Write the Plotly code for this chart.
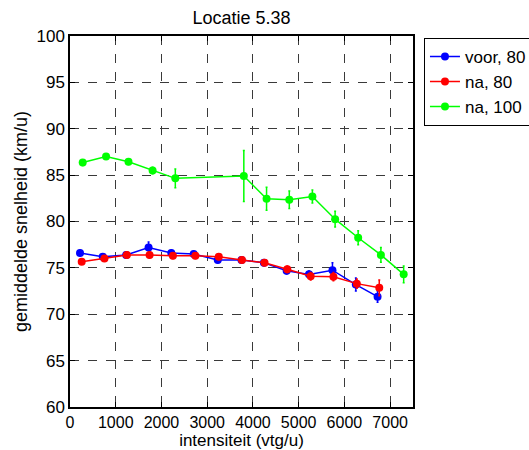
import plotly.graph_objects as go

title = "Locatie 5.38"
x_label = "intensiteit (vtg/u)"
y_label = "gemiddelde snelheid (km/u)"

voor80_x = [219, 716, 1228, 1718, 2215, 2705, 3231, 3750, 4240, 4737, 5226, 5739, 6250, 6725]
voor80_y = [76.6, 76.2, 76.4, 77.2, 76.6, 76.5, 75.85, 75.85, 75.55, 74.7, 74.3, 74.75, 73.2, 71.9]
voor80_e = [0.3, 0.3, 0.35, 0.6, 0.3, 0.3, 0.3, 0.3, 0.3, 0.35, 0.35, 0.8, 0.7, 0.6]

na80_x = [256, 753, 1243, 1740, 2250, 2741, 3253, 3760, 4254, 4751, 5263, 5760, 6272, 6762]
na80_y = [75.65, 76.0, 76.4, 76.4, 76.3, 76.3, 76.2, 75.85, 75.55, 74.85, 74.1, 74.05, 73.3, 72.85]
na80_e = [0.25, 0.25, 0.3, 0.3, 0.3, 0.3, 0.3, 0.3, 0.3, 0.35, 0.4, 0.45, 0.5, 0.85]

na100_x = [278, 789, 1279, 1806, 2303, 3801, 4298, 4795, 5300, 5797, 6301, 6798, 7296]
na100_y = [86.35, 87.0, 86.45, 85.5, 84.65, 84.9, 82.45, 82.35, 82.7, 80.25, 78.25, 76.4, 74.3]
na100_e = [0.3, 0.3, 0.3, 0.35, 1.0, 2.75, 1.25, 0.95, 0.7, 0.85, 0.75, 0.8, 0.9]

x_ticks = [0, 1000, 2000, 3000, 4000, 5000, 6000, 7000]
y_ticks = [60, 65, 70, 75, 80, 85, 90, 95, 100]

series = [
    ("voor, 80", voor80_x, voor80_y, voor80_e, "#0000ff"),
    ("na, 80", na80_x, na80_y, na80_e, "#ff0000"),
    ("na, 100", na100_x, na100_y, na100_e, "#00ff00"),
]

FONT = "Arial, Liberation Sans, Helvetica, sans-serif"

fig = go.Figure()
for name, xs, ys, es, col in series:
    fig.add_trace(go.Scatter(
        x=xs, y=ys, name=name, mode="lines+markers",
        line=dict(color=col, width=1.5),
        marker=dict(color=col, size=8, symbol="circle"),
        error_y=dict(type="data", array=es, visible=True, color=col,
                     thickness=1.5, width=1),
    ))

axis_common = dict(
    showline=True, linecolor="black", linewidth=1.5, mirror="ticks",
    ticks="inside", ticklen=5, tickcolor="black", tickwidth=1,
    showgrid=True, gridcolor="#3a3a3a", griddash="dash", gridwidth=1,
    zeroline=False,
)

fig.update_layout(
    width=529, height=450,
    margin=dict(l=70, r=116, t=36, b=43, autoexpand=False),
    paper_bgcolor="white", plot_bgcolor="white",
    font=dict(family=FONT, size=17, color="black"),
    title=dict(text=title, x=(70 + 413) / 2 / 529, xanchor="center",
               y=1 - 18 / 450, yanchor="middle",
               font=dict(family=FONT, size=18, color="black")),
    xaxis=dict(range=[0, 7500], tickvals=x_ticks,
               tickfont=dict(family=FONT, size=16, color="black"),
               title=dict(text=x_label, standoff=3,
                          font=dict(family=FONT, size=17)),
               **axis_common),
    yaxis=dict(range=[60, 100], tickvals=y_ticks,
               tickfont=dict(family=FONT, size=17, color="black"),
               title=dict(text=y_label, standoff=4,
                          font=dict(family=FONT, size=18)),
               **axis_common),
    legend=dict(x=1.032, xanchor="left", y=0.995, yanchor="top",
                bgcolor="white", bordercolor="black", borderwidth=1,
                font=dict(family=FONT, size=17, color="black"),
                tracegroupgap=0, itemwidth=30),
    showlegend=True,
)

fig.write_html("out.html")
